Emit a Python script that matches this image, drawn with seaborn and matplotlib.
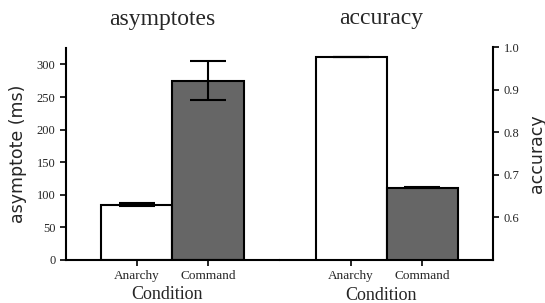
import numpy as np
import pandas as pd
import matplotlib.pyplot as plt
import seaborn as sns

conditions = ["Anarchy", "Command"]
asymptote_ms = [85, 275]
asymptote_err = [2.5, 30]
accuracy = [0.976, 0.670]
accuracy_err = [0.0, 0.001]
bar_colors = ["white", "#666666"]

sns.set_style("ticks")
plt.rcParams['font.family'] = ['Liberation Serif', 'DejaVu Serif']

fig = plt.figure(figsize=(5.45, 3.03), dpi=100)
ax1 = fig.add_axes([0.121, 0.142, 0.391, 0.699])
ax2 = fig.add_axes([0.514, 0.142, 0.391, 0.702])

df1 = pd.DataFrame({"Condition": conditions, "value": asymptote_ms})
df2 = pd.DataFrame({"Condition": conditions, "value": accuracy})

for ax, df, err in [(ax1, df1, asymptote_err), (ax2, df2, accuracy_err)]:
    sns.barplot(data=df, x="Condition", y="value", hue="Condition",
                palette=bar_colors, width=1.0, edgecolor="black",
                linewidth=1.5, legend=False, ax=ax)
    ax.errorbar(np.arange(len(conditions)), df["value"], yerr=err, fmt="none",
                ecolor="black", elinewidth=1.5, capsize=13, capthick=1.5)
    ax.set_xlim(-1, 2)
    ax.set_xticks([0, 1], conditions, fontsize=9.5)
    ax.set_xlabel("Condition", fontsize=13)
    ax.xaxis.set_label_coords(0.475, -0.125)
    ax.tick_params(axis="both", length=4, width=1.2, color="black")
    ax.tick_params(axis="y", labelsize=9)
    for s in ax.spines.values():
        s.set_linewidth(1.5)
        s.set_color("black")

ax1.set_ylim(0, 325)
ax1.set_yticks(np.arange(0, 301, 50))
ax1.spines[["top", "right"]].set_visible(False)
ax1.set_ylabel("asymptote (ms)", fontsize=12.5, family=["DejaVu Sans"], labelpad=7)
ax1.set_title("asymptotes", fontsize=17, x=0.45, pad=16.5)

ax2.set_ylim(0.5, 1.0)
ax2.set_yticks([0.6, 0.7, 0.8, 0.9, 1.0])
ax2.yaxis.tick_right()
ax2.yaxis.set_label_position("right")
ax2.spines[["top", "left"]].set_visible(False)
ax2.set_ylabel("accuracy", fontsize=12.5, family=["DejaVu Sans"], labelpad=6)
ax2.set_title("accuracy", fontsize=17, x=0.474, pad=16.5)

fig.savefig("out.png", dpi=100)
